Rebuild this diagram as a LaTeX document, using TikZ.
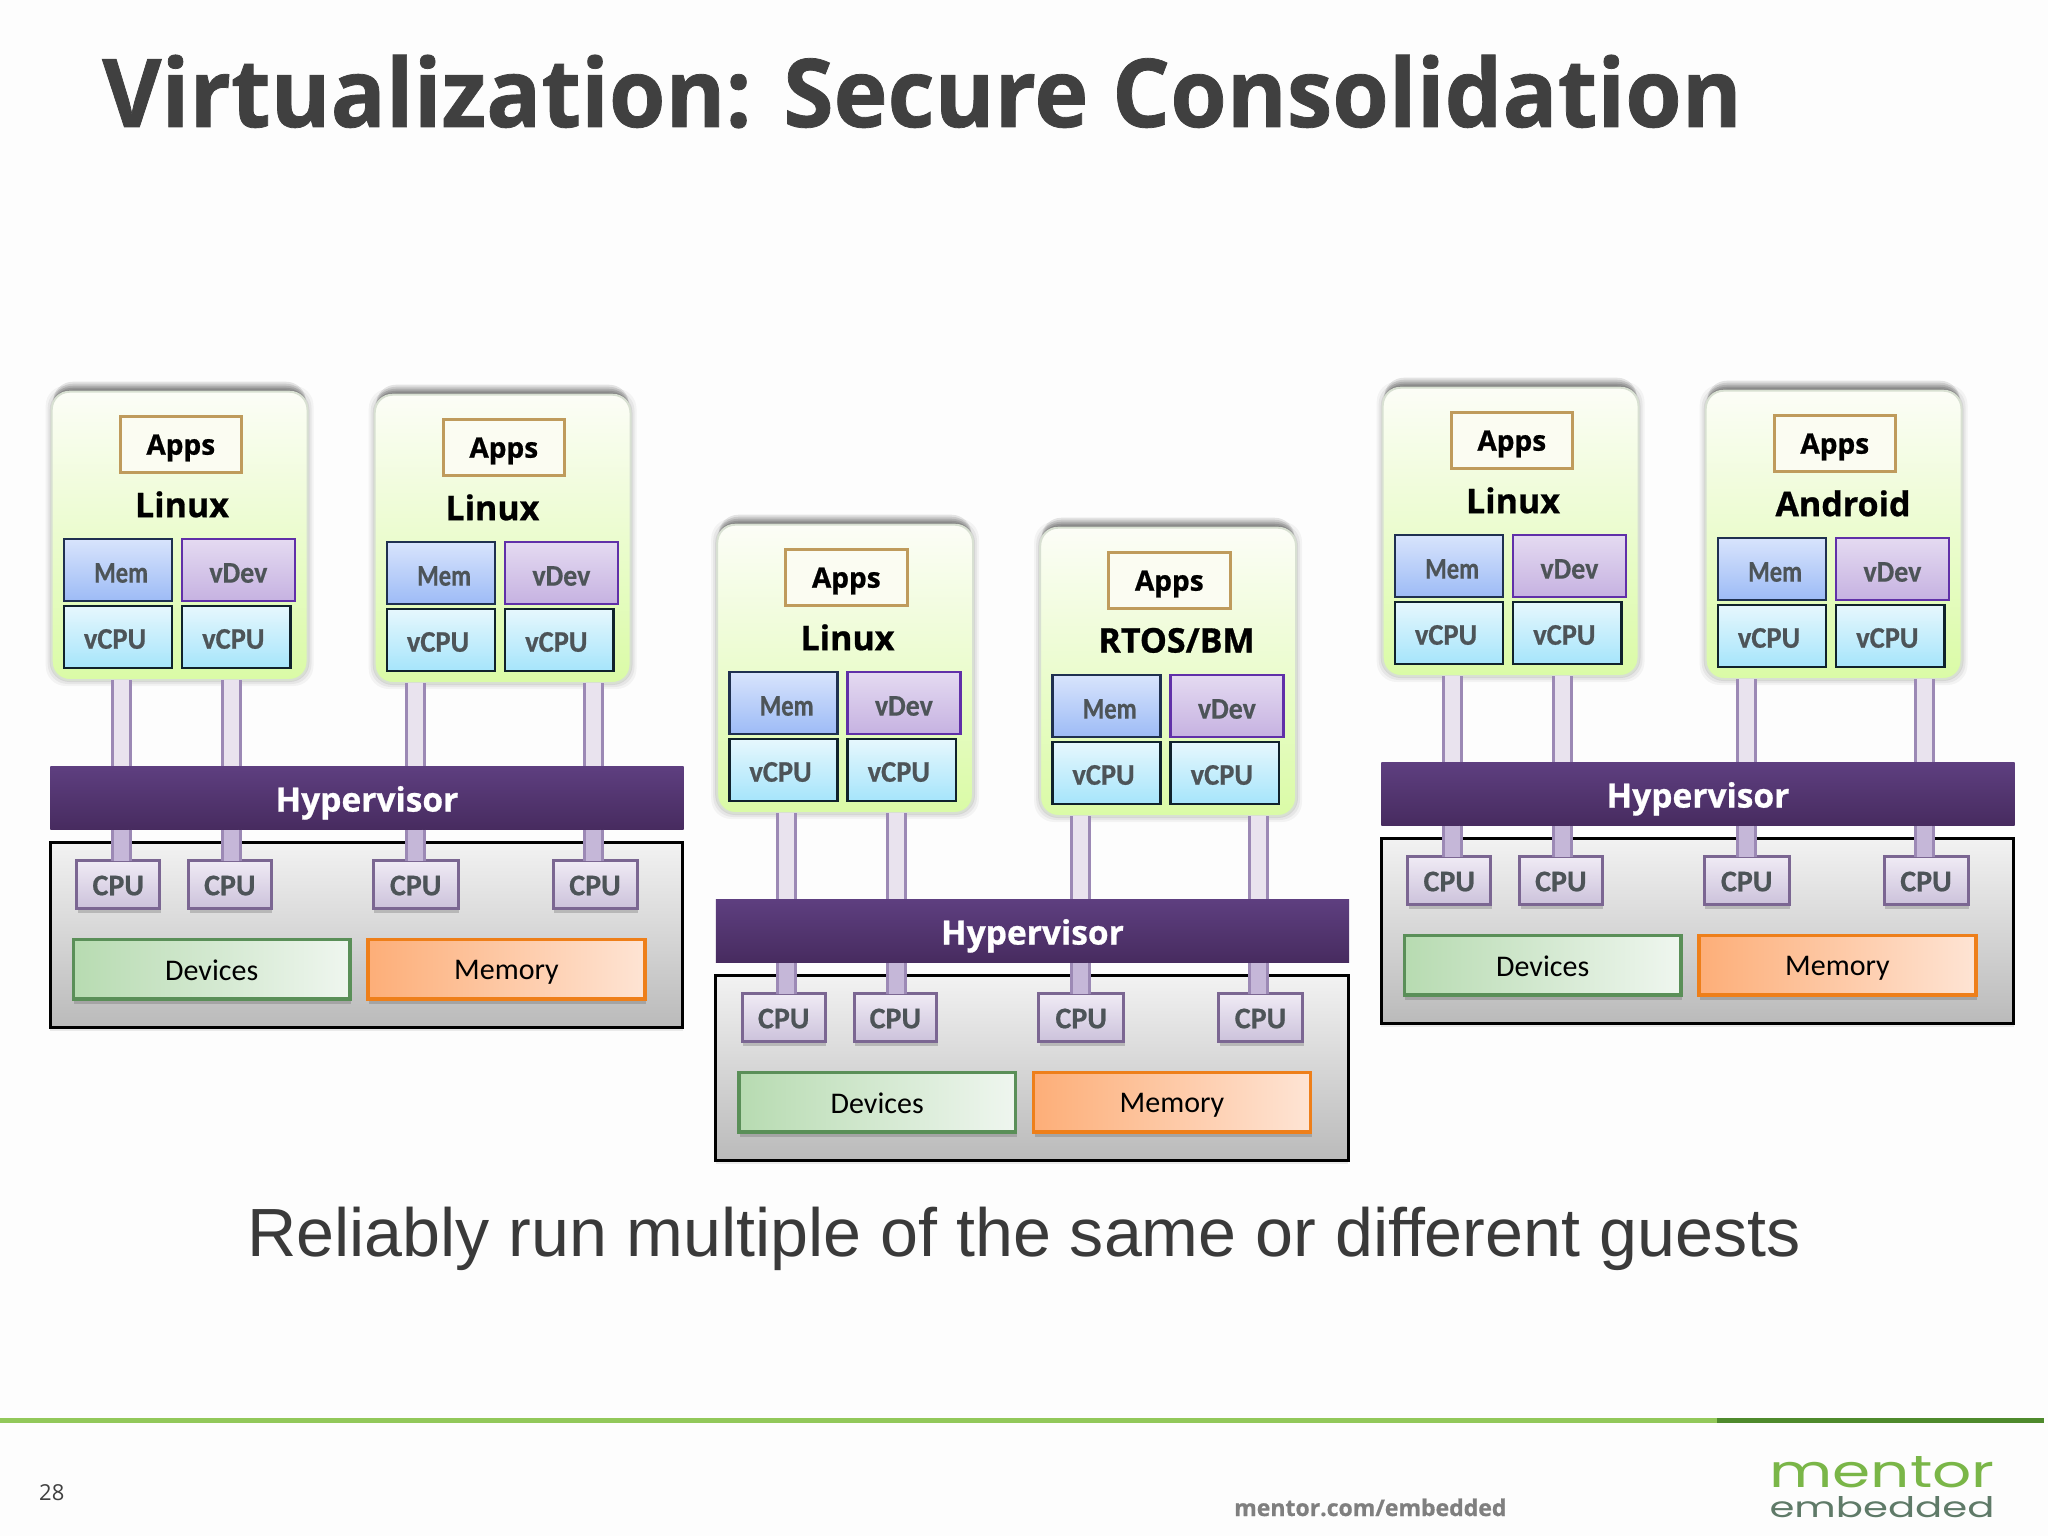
\documentclass[tikz,border=0pt]{standalone}
\usepackage{fontspec}
\usepackage{graphicx}
\usetikzlibrary{shadows}
\setmainfont{Carlito}[BoldFeatures={FakeBold=0.6}]
\newfontfamily\hdf{Open Sans}[BoldFeatures={FakeBold=0.8}]
\newfontfamily\arf{Liberation Sans}
\newfontfamily\logof{Poppins}
\newcommand\fsz[1]{\fontsize{#1}{#1}\selectfont}
% label: vertical drop, horizontal scale, text
\newcommand\lbl[3]{\raisebox{-#1pt}[\height][\depth]{\scalebox{#2}[1]{#3}}}
\definecolor{bg}{HTML}{FDFDFD}
\definecolor{ttl}{HTML}{404040}
\definecolor{sub}{HTML}{3A3A3A}
\definecolor{lab}{HTML}{4D5458}
\definecolor{vmT}{HTML}{FCFDF7}
\definecolor{vmB}{HTML}{DAFBA6}
\definecolor{vmE}{HTML}{D8E0D2}
\definecolor{appE}{HTML}{BF9B5C}
\definecolor{appF}{HTML}{FBFCF2}
\definecolor{memT}{HTML}{D8E4FC}
\definecolor{memB}{HTML}{9DBBF6}
\definecolor{memE}{HTML}{1F3050}
\definecolor{devT}{HTML}{E4DAF1}
\definecolor{devB}{HTML}{C6B2E1}
\definecolor{devE}{HTML}{6030A8}
\definecolor{cpuT}{HTML}{E6F7FD}
\definecolor{cpuB}{HTML}{A6E5FB}
\definecolor{cpuE}{HTML}{10222C}
\definecolor{pcT}{HTML}{F0EBF5}
\definecolor{pcB}{HTML}{CCC2DB}
\definecolor{pcE}{HTML}{7B6692}
\definecolor{hypT}{HTML}{5E3F80}
\definecolor{hypB}{HTML}{472B5F}
\definecolor{plT}{HTML}{F2F2F2}
\definecolor{plB}{HTML}{BABABA}
\definecolor{dvL}{HTML}{B7DBB1}
\definecolor{dvR}{HTML}{EFF6EF}
\definecolor{dvE}{HTML}{5A8F58}
\definecolor{mmL}{HTML}{FDAE78}
\definecolor{mmR}{HTML}{FEE4D4}
\definecolor{mmE}{HTML}{EE7F1A}
\definecolor{pipeE}{HTML}{9C89B5}
\definecolor{pipeU}{HTML}{E9E3EE}
\definecolor{pipeL}{HTML}{C5B7D8}
\definecolor{lnL}{HTML}{92C85A}
\definecolor{lnD}{HTML}{4E8A2C}
\definecolor{lgG}{HTML}{7AB648}
\definecolor{lgD}{HTML}{5F7A68}
\definecolor{foot}{HTML}{7F7F7F}
\tikzset{
  boxbase/.style={inner sep=0pt,outer sep=0pt,line width=2.5pt,align=center},
  vmbox/.style={boxbase,rounded corners=18pt,top color=vmT,bottom color=vmB,draw=vmE,line width=2pt},
  appsbox/.style={boxbase,draw=appE,fill=appF,line width=3pt},
  membox/.style={boxbase,top color=memT,bottom color=memB,draw=memE,text=lab,font=\fsz{30}\bfseries},
  vdevbox/.style={boxbase,top color=devT,bottom color=devB,draw=devE,text=lab,font=\fsz{30}\bfseries},
  vcpubox/.style={boxbase,top color=cpuT,bottom color=cpuB,draw=cpuE,text=lab,font=\fsz{30}\bfseries},
  hypbox/.style={boxbase,top color=hypT,bottom color=hypB,draw=none,text=white,font=\hdf\fsz{33.5}\bfseries},
  platbox/.style={boxbase,top color=plT,bottom color=plB,draw=black,line width=3pt,drop shadow={shadow xshift=0pt,shadow yshift=-3pt,opacity=.15}},
  pcpubox/.style={boxbase,line width=3pt,top color=pcT,bottom color=pcB,draw=pcE,text=lab,font=\fsz{30}\bfseries,drop shadow={shadow xshift=1pt,shadow yshift=-4pt,opacity=.4}},
  devsbox/.style={boxbase,line width=3.5pt,left color=dvL,right color=dvR,draw=dvE,font=\fsz{30},drop shadow={shadow xshift=1pt,shadow yshift=-5pt,opacity=.45}},
  memrbox/.style={boxbase,line width=3.5pt,left color=mmL,right color=mmR,draw=mmE,font=\fsz{30},drop shadow={shadow xshift=1pt,shadow yshift=-5pt,opacity=.45}},
  oslabel/.style={inner sep=0pt,font=\hdf\fsz{34}\bfseries,text=black},
  appstext/.style={font=\hdf\fsz{28}\bfseries,text=black},
  pipeup/.style={draw=pipeE,line width=3pt,double=pipeU,double distance=15pt},
  pipelo/.style={draw=pipeE,line width=3pt,double=pipeL,double distance=15pt},
}
\newcommand\bx[7]{%
  \pgfmathsetmacro\bxw{#5-#3}\pgfmathsetmacro\bxh{#6-#4}%
  \pgfmathsetmacro\bxx{(#5+#3)/2}\pgfmathsetmacro\bxy{(#6+#4)/2}%
  \node[#2,minimum width=\bxw pt,minimum height=\bxh pt] (#1) at (\bxx,\bxy) {#7};}
% one guest: name, shift x, shift y, os label, label x
\newcommand\vm[5]{%
  \begin{scope}[shift={(#2,#3)}]
    \foreach \k/\o in {6/.04,4/.05,2/.07}{
      \fill[black,opacity=\o,rounded corners=20pt] (51.7-\k,391.7-\k) rectangle (307.5+\k,680+\k);
    }
    \foreach \k in {10,8,6,4,2}{
      \fill[black,opacity=.1,rounded corners=20pt] (53,391.7-\k) rectangle (306,440);
    }
    \bx{#1box}{vmbox}{51.7}{391.7}{307.5}{680}{}
    \bx{#1apps}{appsbox,appstext}{120}{416}{241.6}{472}{\lbl{4}{1}{Apps}}
    \bx{#1mem}{membox}{63.8}{539}{172}{601}{\lbl{3}{.82}{\hspace*{8pt}Mem}}
    \bx{#1vdev}{vdevbox}{181.8}{539}{295}{601}{\lbl{3}{.93}{vDev}}
    \bx{#1vca}{vcpubox}{63.8}{606}{172}{668}{\lbl{2}{.95}{vCPU\hspace*{6pt}}}
    \bx{#1vcb}{vcpubox}{181.8}{606}{290.6}{668}{\lbl{2}{.95}{vCPU\hspace*{6pt}}}
  \end{scope}
  \node[oslabel] (#1os) at (#5,504.4+#3) {#4};}
% one machine: name, shift x, shift y, label1, x1, label2, x2
\newcommand\machine[7]{%
  \begin{scope}[shift={(#2,#3)}]
    \vm{#1a}{0}{0}{#4}{#5}
    \vm{#1b}{323}{3}{#6}{#7}
    \bx{#1plat}{platbox}{50.4}{842.7}{682.6}{1027.8}{}
    \bx{#1hyp}{hypbox}{50.4}{766}{683.5}{829.7}{\lbl{5}{1}{Hypervisor}}
    \bx{#1cpua}{pcpubox}{76.8}{860.5}{159.7}{908.6}{\lbl{1}{1}{CPU}}
    \bx{#1cpub}{pcpubox}{188.7}{860.5}{271}{908.6}{\lbl{1}{1}{CPU}}
    \bx{#1cpuc}{pcpubox}{373.4}{860.5}{458}{908.6}{\lbl{1}{1}{CPU}}
    \bx{#1cpud}{pcpubox}{553}{860.5}{637}{908.6}{\lbl{1}{1}{CPU}}
    \bx{#1devs}{devsbox}{73.4}{939.4}{350}{998.8}{\lbl{1}{1}{Devices}}
    \bx{#1memr}{memrbox}{368}{939.4}{645}{998.8}{\lbl{3}{1}{Memory}}
    \coordinate (#1pa) at (121,800);
    \coordinate (#1pb) at (231,800);
    \coordinate (#1pc) at (415,800);
    \coordinate (#1pd) at (593,800);
    \draw[pipeup] (#1pa |- #1abox.south) -- (#1pa |- #1hyp.north);
    \draw[pipeup] (#1pb |- #1abox.south) -- (#1pb |- #1hyp.north);
    \draw[pipeup] (#1pc |- #1bbox.south) -- (#1pc |- #1hyp.north);
    \draw[pipeup] (#1pd |- #1bbox.south) -- (#1pd |- #1hyp.north);
    \draw[pipelo] (#1pa |- #1hyp.south) -- (#1pa |- #1cpua.north);
    \draw[pipelo] (#1pb |- #1hyp.south) -- (#1pb |- #1cpub.north);
    \draw[pipelo] (#1pc |- #1hyp.south) -- (#1pc |- #1cpuc.north);
    \draw[pipelo] (#1pd |- #1hyp.south) -- (#1pd |- #1cpud.north);
  \end{scope}}
\begin{document}
\begin{tikzpicture}[x=1pt,y=-1pt]
\useasboundingbox (0,0) rectangle (2048,1536);
\fill[bg] (0,0) rectangle (2048,1536);
\node[anchor=base west,inner sep=0pt,text=ttl,font=\hdf\fsz{95}\bfseries] (title) at (102,127) {\scalebox{.962}[1]{Virtualization: Secure Consolidation}};
\machine{ma}{0}{0}{Linux}{182}{Linux}{492.4}
\machine{mb}{665.5}{133}{Linux}{182}{RTOS/BM}{511}
\machine{mc}{1331}{-4}{Linux}{182}{Android}{512}
\node[anchor=base,inner sep=0pt,text=sub,font=\arf\fsz{68.2}] (subt) at (1024,1256) {Reliably run multiple of the same or different guests};
\fill[lnL] (0,1418) rectangle (2044,1423);
\fill[lnD] (1717,1418) rectangle (2044,1423);
\node[anchor=base west,inner sep=0pt,text=ttl,font=\hdf\fsz{22}] (pageno) at (39,1500) {28};
\node[anchor=base west,inner sep=0pt,text=foot,font=\hdf\fsz{23}\bfseries] (url) at (1234,1516) {mentor.com/embedded};
\node[inner sep=0pt,text=lgG] (logoa) at (1882,1472) {\resizebox{225pt}{31pt}{\logof mentor}};
\node[inner sep=0pt,text=lgD] (logob) at (1882,1507) {\resizebox{225pt}{21pt}{\logof embedded}};
\end{tikzpicture}
\end{document}
